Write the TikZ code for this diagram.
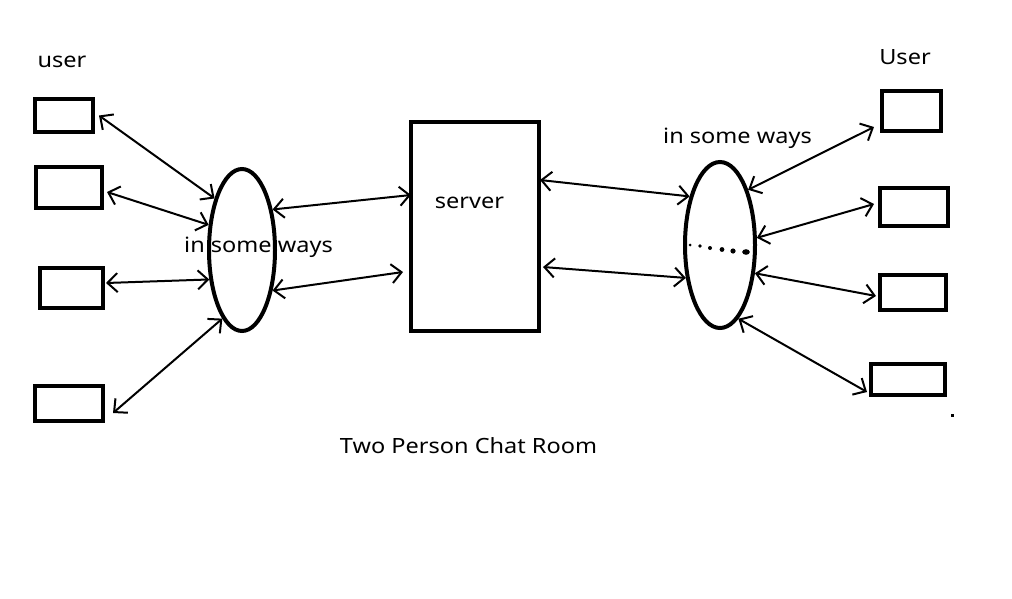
\documentclass[tikz,border=0pt]{standalone}
\usepackage{fontspec}
\setmainfont[FakeStretch=1.12]{Noto Sans}
\usetikzlibrary{arrows.meta,shapes.geometric}
\begin{document}
\begin{tikzpicture}[x=1pt,y=-1pt,
  ubox/.style={draw,line width=4pt,rectangle,inner sep=0pt},
  oval/.style={draw,line width=4pt,ellipse,inner sep=0pt},
  link/.style={line width=2pt,{Straight Barb[length=10pt,width=19pt,line width=2pt]}-{Straight Barb[length=10pt,width=19pt,line width=2pt]}},
  lbl/.style={font=\fontsize{21}{24}\selectfont,anchor=base,inner sep=0pt}]
\useasboundingbox (0,0) rectangle (1012,598);
% left boxes
\node[ubox,minimum width=58pt,minimum height=33pt] (b1) at (64,115.5) {};
\node[ubox,minimum width=66pt,minimum height=41pt] (b2) at (69,187.5) {};
\node[ubox,minimum width=63pt,minimum height=40pt] (b3) at (71.5,288) {};
\node[ubox,minimum width=68pt,minimum height=35pt] (b4) at (69,403.5) {};
% right boxes
\node[ubox,minimum width=59pt,minimum height=40pt] (r1) at (911.5,111) {};
\node[ubox,minimum width=68pt,minimum height=38pt] (r2) at (914,207) {};
\node[ubox,minimum width=66pt,minimum height=35pt] (r3) at (913,292.5) {};
\node[ubox,minimum width=74pt,minimum height=31pt] (r4) at (908,379.5) {};
% server
\node[ubox,minimum width=128pt,minimum height=209pt] (srv) at (475,226.5) {};
% ellipses
\node[oval,minimum width=66pt,minimum height=162pt] (el) at (242,250) {};
\node[oval,minimum width=70pt,minimum height=166pt] (er) at (720,245) {};
% texts
\node[lbl] (tuser) at (62,67) {user};
\node[lbl] (tUser) at (905,64) {User};
\node[lbl] (tleft) at (258.5,252) {in some ways};
\node[lbl] (tright) at (737.5,143) {in some ways};
\node[lbl] (tsrv) at (469.5,208) {server};
\node[lbl] (ttitle) at (468.5,453) {Two Person Chat Room};
% left links
\draw[link] ([xshift=4pt]b1.east) -- (el.118);
\draw[link] ([xshift=3pt,yshift=-4.5pt]b2.east) -- (el.143);
\draw[link] ([xshift=1pt,yshift=5pt]b3.east) -- (el.222);
\draw[link] ([xshift=8pt,yshift=-9.5pt]b4.east) -- (el.254);
% left ellipse to server
\draw[link] (el.53) -- ([xshift=2pt,yshift=31.5pt]srv.west);
\draw[link] (el.-53) -- ([xshift=-6pt,yshift=-45.5pt]srv.west);
% server to right ellipse
\draw[link] ([xshift=-1pt,yshift=46.5pt]srv.east) -- (er.122);
\draw[link] ([xshift=2pt,yshift=-40.5pt]srv.east) -- (er.224);
% right links
\draw[link] (er.63) -- ([xshift=-6pt,yshift=-16pt]r1.west);
\draw[link] (er.11) -- ([xshift=-4pt,yshift=3pt]r2.west);
\draw[link] (er.-39) -- ([xshift=-2pt,yshift=-3.5pt]r3.west);
\draw[link] (er.-76) -- ([xshift=-2pt,yshift=-12.5pt]r4.west);
% dots inside right ellipse
\fill (690,245) circle (1.5pt);
\fill (700,246) circle (1.8pt);
\fill (710,248) circle (2pt);
\fill (722,249.5) circle (2.4pt);
\fill (733,251) circle (2.6pt);
\fill (746,252) ellipse (3.8pt and 2.8pt);
\fill (951,414) rectangle (954,417);
\end{tikzpicture}
\end{document}
